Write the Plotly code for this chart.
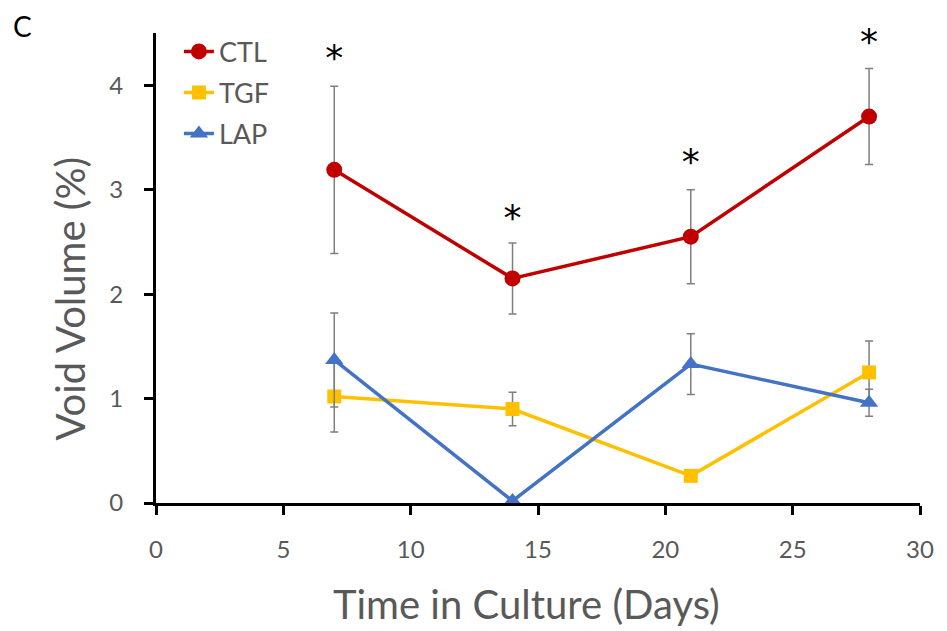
import plotly.graph_objects as go

days = [7, 14, 21, 28]
ctl = [3.19, 2.15, 2.55, 3.70]
ctl_err = [0.80, 0.34, 0.45, 0.46]
tgf = [1.02, 0.90, 0.26, 1.25]
tgf_err = [0.34, 0.16, 0.05, 0.30]
lap = [1.37, 0.02, 1.33, 0.96]
lap_err = [0.45, 0.0, 0.29, 0.13]
star_y = [4.23, 2.70, 3.24, 4.39]

x_ticks = [0, 5, 10, 15, 20, 25, 30]
y_ticks = [0, 1, 2, 3, 4]

series = [
    ("CTL", ctl, ctl_err, "#C00000", "circle", 16),
    ("TGF", tgf, tgf_err, "#FFC000", "square", 14),
    ("LAP", lap, lap_err, "#4472C4", "triangle-up", 16),
]

FONT = "Lato"
GRAY = "#595959"

fig = go.Figure()
for name, vals, errs, color, sym, msize in series:
    fig.add_trace(go.Scatter(
        x=days, y=vals, name=name, legendgroup=name, mode="lines+markers",
        line=dict(color=color, width=3.5),
        marker=dict(color=color, size=msize, symbol=sym),
        error_y=dict(type="data", array=errs, visible=True,
                     color="#7F7F7F", thickness=1.5, width=4),
    ))

fig.add_trace(go.Scatter(
    x=days, y=star_y, mode="text", text=["*"] * len(days),
    textfont=dict(size=36, color="black", family="DejaVu Sans"),
    showlegend=False, hoverinfo="skip", cliponaxis=False,
))

tick_font = dict(family=FONT, size=24, color=GRAY)
title_font = dict(family=FONT, size=40, color=GRAY)
fig.update_layout(
    width=947, height=631,
    paper_bgcolor="white", plot_bgcolor="white",
    margin=dict(l=148, r=35, t=25, b=136),
    font=dict(family=FONT, color=GRAY),
    showlegend=True,
    legend=dict(x=0.03, y=1.012, xanchor="left", yanchor="top",
                font=dict(family=FONT, size=27, color=GRAY),
                bgcolor="rgba(0,0,0,0)", traceorder="grouped",
                tracegroupgap=3, itemwidth=30),
    xaxis=dict(range=[0, 30], tickvals=x_ticks,
               showgrid=False, zeroline=False, showline=True,
               linecolor="black", linewidth=3, ticks="outside",
               ticklen=9, tickwidth=2.5, tickcolor="black",
               tickfont=tick_font, ticklabelstandoff=14),
    yaxis=dict(range=[0, 4.5], tickvals=y_ticks,
               showgrid=False, zeroline=False, showline=True,
               linecolor="black", linewidth=3, ticks="outside",
               ticklen=9, tickwidth=2.5, tickcolor="black",
               tickfont=tick_font, ticklabelstandoff=16),
    annotations=[
        dict(text="C", xref="paper", yref="paper", x=-0.19, y=1.056,
             xanchor="left", yanchor="top", showarrow=False,
             font=dict(family=FONT, size=28, color="black")),
        dict(text="Time in Culture (Days)", xref="paper", yref="paper",
             x=0.4856, y=-0.215, xanchor="center", yanchor="middle",
             showarrow=False, font=title_font),
        dict(text="Void Volume (%)", xref="paper", yref="paper",
             x=-0.112, y=0.436, xanchor="center", yanchor="middle",
             textangle=-90, showarrow=False, font=title_font),
    ],
)

fig.write_html("out.html")
